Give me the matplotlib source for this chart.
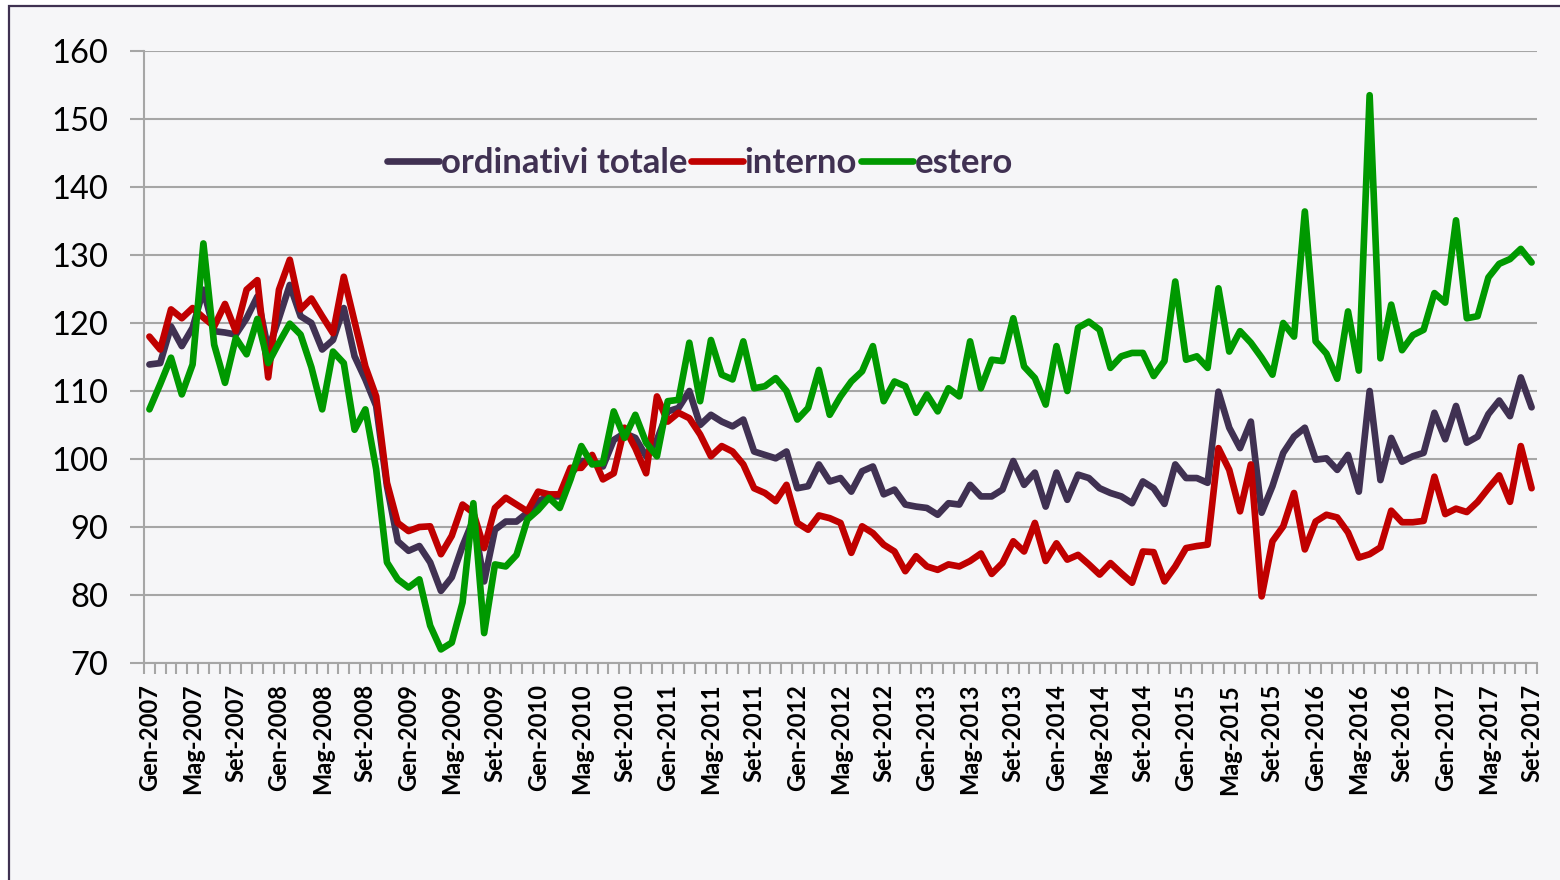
#!/usr/bin/env python3
"""
Ordinativi industria - indici mensili Gen-2007 / Set-2017
(totale, interno, estero)
"""

import matplotlib
matplotlib.use('Agg')
import matplotlib.pyplot as plt
from matplotlib.patches import Rectangle

# Italian month abbreviations and years covered
MONTHS = ['Gen', 'Feb', 'Mar', 'Apr', 'Mag', 'Giu',
          'Lug', 'Ago', 'Set', 'Ott', 'Nov', 'Dic']
YEARS = list(range(2007, 2018))
N_MONTHS = 129  # Gen-2007 .. Set-2017

totale = [
    113.9, 114.1, 119.5, 116.6, 119.3, 124.9, 118.8, 118.6, 118.3, 120.7, 123.9, 116.1,
    120.7, 125.6, 121.0, 120.0, 116.1, 117.5, 122.2, 115.1, 111.7, 107.8, 96.0, 87.9,
    86.5, 87.2, 84.8, 80.6, 82.6, 87.2, 91.1, 82.0, 89.6, 90.8, 90.8, 92.1,
    93.8, 94.5, 94.5, 97.7, 99.7, 99.7, 98.9, 102.8, 103.8, 103.1, 100.4, 102.8,
    107.0, 107.5, 110.0, 105.0, 106.5, 105.5, 104.8, 105.8, 101.1, 100.6, 100.1, 101.1,
    95.7, 96.0, 99.2, 96.7, 97.2, 95.2, 98.2, 98.9, 94.8, 95.5, 93.3, 93.0,
    92.8, 91.8, 93.5, 93.3, 96.2, 94.5, 94.5, 95.5, 99.7, 96.2, 98.0, 93.0,
    98.0, 94.0, 97.7, 97.2, 95.7, 95.0, 94.5, 93.5, 96.7, 95.7, 93.4, 99.2,
    97.2, 97.2, 96.5, 109.9, 104.6, 101.6, 105.5, 92.1, 96.0, 100.9, 103.3, 104.6,
    99.9, 100.1, 98.4, 100.6, 95.2, 110.0, 96.9, 103.1, 99.6, 100.4, 100.9, 106.8,
    102.9, 107.8, 102.4, 103.3, 106.6, 108.6, 106.3, 112.0, 107.6,
]

interno = [
    118.0, 116.1, 122.0, 120.7, 122.2, 120.8, 119.5, 122.8, 118.8, 124.9, 126.3, 112.0,
    124.9, 129.3, 122.0, 123.6, 121.0, 118.5, 126.8, 120.2, 113.6, 109.2, 96.5, 90.6,
    89.4, 90.0, 90.1, 86.0, 88.7, 93.3, 92.1, 86.9, 92.8, 94.3, 93.3, 92.3,
    95.2, 94.8, 94.8, 98.7, 98.7, 100.6, 97.0, 97.9, 104.6, 101.6, 97.9, 109.2,
    105.5, 106.8, 106.0, 103.6, 100.4, 101.9, 101.1, 99.2, 95.7, 95.0, 93.8, 96.2,
    90.6, 89.6, 91.7, 91.3, 90.6, 86.2, 90.1, 89.1, 87.4, 86.4, 83.5, 85.7,
    84.2, 83.7, 84.5, 84.2, 85.0, 86.1, 83.1, 84.7, 87.9, 86.4, 90.6, 85.0,
    87.6, 85.2, 85.9, 84.5, 83.0, 84.7, 83.2, 81.8, 86.4, 86.3, 82.0, 84.2,
    86.9, 87.2, 87.4, 101.6, 98.4, 92.3, 99.2, 79.8, 87.9, 90.1, 95.0, 86.7,
    90.8, 91.8, 91.4, 89.2, 85.5, 86.0, 87.0, 92.4, 90.7, 90.7, 90.9, 97.4,
    91.9, 92.7, 92.2, 93.7, 95.7, 97.6, 93.7, 101.9, 95.7,
]

estero = [
    107.3, 111.0, 114.9, 109.5, 113.9, 131.7, 116.8, 111.2, 117.8, 115.4, 120.6, 114.1,
    117.1, 119.9, 118.3, 113.5, 107.3, 115.8, 114.1, 104.3, 107.3, 98.5, 84.8, 82.3,
    81.1, 82.3, 75.5, 72.0, 73.0, 78.9, 93.5, 74.4, 84.5, 84.2, 85.9, 91.1,
    92.5, 94.3, 92.8, 97.0, 101.9, 99.2, 99.4, 107.0, 103.1, 106.5, 102.4, 100.4,
    108.5, 108.7, 117.1, 108.5, 117.5, 112.4, 111.7, 117.3, 110.4, 110.7, 111.9, 110.0,
    105.8, 107.5, 113.1, 106.5, 109.2, 111.4, 112.9, 116.6, 108.5, 111.4, 110.7, 106.8,
    109.5, 107.0, 110.4, 109.2, 117.3, 110.4, 114.6, 114.4, 120.7, 113.6, 111.9, 108.0,
    116.6, 110.0, 119.3, 120.2, 119.0, 113.4, 115.1, 115.6, 115.6, 112.2, 114.4, 126.1,
    114.6, 115.1, 113.4, 125.1, 115.8, 118.8, 117.1, 114.9, 112.4, 120.0, 118.0, 136.4,
    117.3, 115.5, 111.8, 121.7, 113.0, 153.5, 114.8, 122.7, 116.0, 118.2, 119.0, 124.4,
    123.0, 135.1, 120.7, 121.0, 126.7, 128.7, 129.4, 130.9, 128.9,
]

COLORS = {'totale': '#403152', 'interno': '#C00000', 'estero': '#009900'}
GRID_COLOR = '#A6A6A6'
BG_COLOR = '#F6F6F8'


def month_labels():
    """Build 'Gen-2007' style labels for every month."""
    labels = [f'{m}-{y}' for y in YEARS for m in MONTHS]
    return labels[:N_MONTHS]


def plot_ordinativi(output_file):
    labels = month_labels()
    x = list(range(len(labels)))

    fig = plt.figure(figsize=(15.6, 8.8), dpi=100)
    fig.patch.set_facecolor('white')

    # outer chart frame (runs off the right and bottom edge)
    frame = Rectangle((9 / 1560, -0.05), 1.1, 1 - 6 / 880 + 0.05,
                      transform=fig.transFigure, facecolor=BG_COLOR,
                      edgecolor='#3F3151', linewidth=1.6, zorder=-10)
    fig.add_artist(frame)

    ax = fig.add_axes([144 / 1560, 1 - 663 / 880, (1537 - 144) / 1560, (663 - 51) / 880])
    ax.set_facecolor(BG_COLOR)
    ax.set_zorder(1)

    lw = 4.8
    ax.plot(x, totale, color=COLORS['totale'], linewidth=lw,
            solid_joinstyle='round', solid_capstyle='round', label='ordinativi totale', zorder=3)
    ax.plot(x, interno, color=COLORS['interno'], linewidth=lw,
            solid_joinstyle='round', solid_capstyle='round', label='interno', zorder=4)
    ax.plot(x, estero, color=COLORS['estero'], linewidth=lw,
            solid_joinstyle='round', solid_capstyle='round', label='estero', zorder=5)

    # axes styling
    ax.set_ylim(70, 160)
    ax.set_yticks(range(70, 161, 10))
    ax.set_xlim(-0.5, len(labels) - 0.5)
    ax.grid(axis='y', color=GRID_COLOR, linewidth=1.5, zorder=1)
    ax.set_axisbelow(True)
    for side in ['top', 'right']:
        ax.spines[side].set_visible(False)
    for side in ['left', 'bottom']:
        ax.spines[side].set_color(GRID_COLOR)
        ax.spines[side].set_linewidth(1.5)

    ax.tick_params(axis='y', length=10, width=1.5, color=GRID_COLOR,
                   labelsize=23.5, pad=16)
    for t in ax.get_yticklabels():
        t.set_fontfamily(['Lato', 'DejaVu Sans'])

    ax.set_xticks(x[::4])
    ax.set_xticklabels(labels[::4], rotation=90, fontsize=17,
                       fontweight='bold', family=['Lato', 'DejaVu Sans'])
    ax.set_xticks([i - 0.5 for i in range(len(labels) + 1)], minor=True)
    ax.tick_params(axis='x', which='major', length=0, pad=15)
    ax.tick_params(axis='x', which='minor', length=8, width=1.5, color=GRID_COLOR)

    leg = ax.legend(loc='center', bbox_to_anchor=(700 / 1560, 1 - 163 / 880),
                    bbox_transform=fig.transFigure, ncol=3, frameon=False,
                    handlelength=1.5, handletextpad=0.05, columnspacing=0.1,
                    prop={'family': ['Lato', 'DejaVu Sans'], 'weight': 'bold', 'size': 25})
    for t in leg.get_texts():
        t.set_color('#403152')

    fig.savefig(output_file, dpi=100, facecolor=fig.get_facecolor())
    plt.close(fig)
    print(f"Saved: {output_file}")


def main():
    assert len(totale) == N_MONTHS
    assert len(interno) == N_MONTHS
    assert len(estero) == N_MONTHS
    plot_ordinativi('out.png')


if __name__ == '__main__':
    main()
